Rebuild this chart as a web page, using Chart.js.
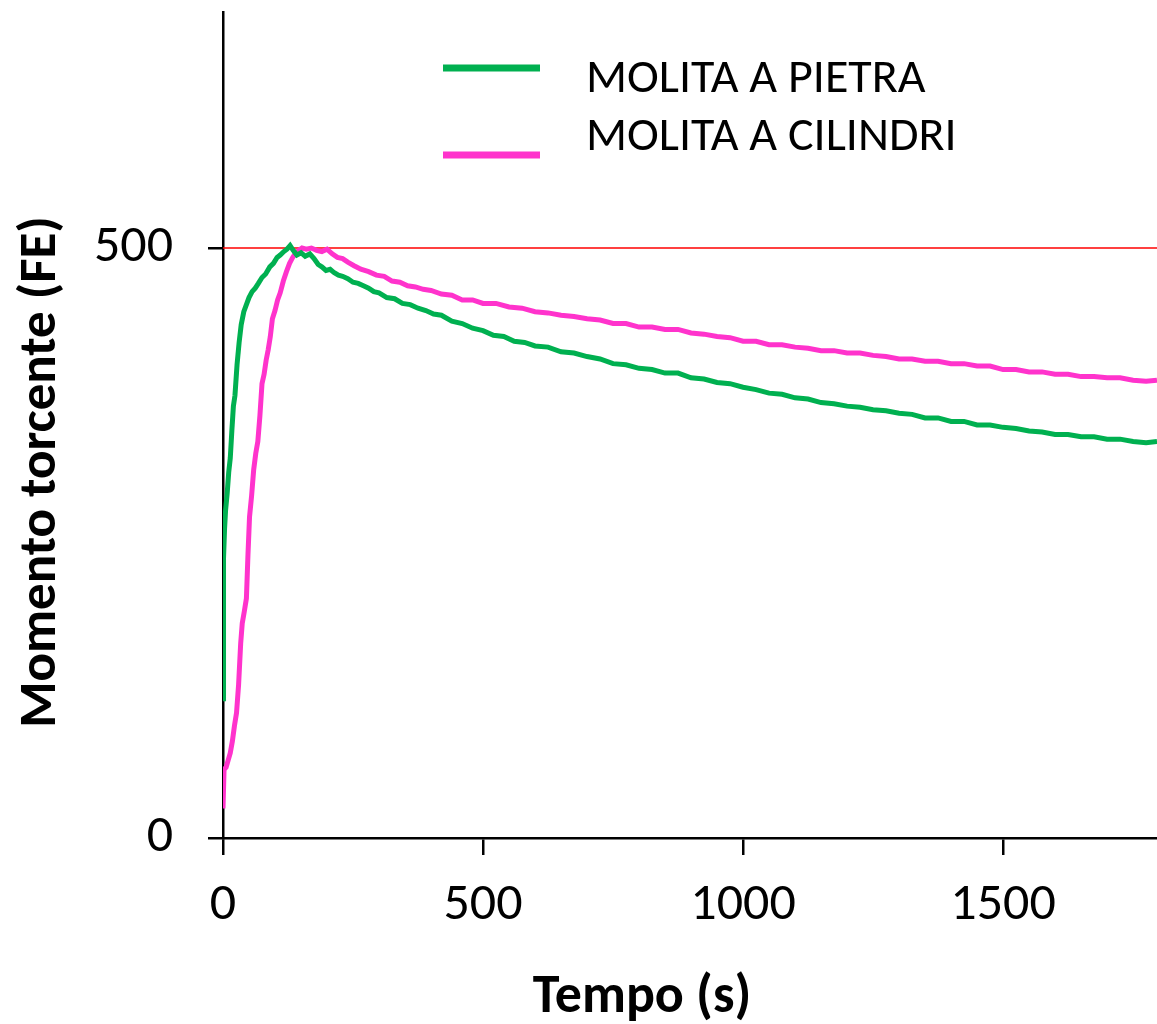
<!DOCTYPE html>
<html>
<head>
<meta charset="utf-8">
<script src="https://cdn.jsdelivr.net/npm/chart.js@4.4.0/dist/chart.umd.min.js"></script>
<style>
  html, body { margin: 0; padding: 0; background: #fff; }
  #wrap { width: 1157px; height: 1024px; }
</style>
</head>
<body>
<div id="wrap"><canvas id="my-chart" width="1157" height="1024"></canvas></div>
<script>
// time (s) and torque (FE)
const pietraTime = [0, 1, 3, 5, 8, 11, 14, 17, 20, 23, 27, 31, 35, 40, 45, 50, 56, 62, 68, 75, 82, 90, 97, 104, 110, 117, 123, 129, 135, 142, 150, 158, 167, 175, 183, 190, 198, 206, 214, 222, 230, 240, 250, 260, 270, 280, 290, 300, 315, 330, 345, 360, 375, 390, 405, 420, 440, 460, 480, 500, 520, 540, 560, 580, 600, 625, 650, 675, 700, 725, 750, 775, 800, 825, 850, 875, 900, 925, 950, 975, 1000, 1025, 1050, 1075, 1100, 1125, 1150, 1175, 1200, 1225, 1250, 1275, 1300, 1325, 1350, 1375, 1400, 1425, 1450, 1475, 1500, 1525, 1550, 1575, 1600, 1625, 1650, 1675, 1700, 1725, 1750, 1775, 1796];
const pietraVal = [118, 237, 262, 278, 292, 310, 322, 345, 366, 375, 401, 420, 435, 446, 452, 458, 463, 466, 470, 475, 478, 484, 487, 492, 494, 497, 499, 502, 498, 494, 496, 493, 495, 491, 486, 484, 481, 482, 479, 477, 476, 474, 471, 470, 468, 466, 463, 462, 458, 457, 453, 452, 449, 447, 444, 443, 438, 436, 432, 430, 426, 425, 421, 420, 417, 416, 412, 411, 408, 406, 402, 401, 398, 397, 394, 394, 390, 389, 386, 385, 382, 380, 377, 376, 373, 372, 369, 368, 366, 365, 363, 362, 360, 359, 356, 356, 353, 353, 350, 350, 348, 347, 345, 344, 342, 342, 340, 340, 338, 338, 336, 335, 336];

const cilindriTime = [0, 2, 6, 10, 14, 18, 22, 26, 30, 34, 37, 41, 45, 48, 51, 55, 59, 63, 67, 71, 75, 79, 83, 87, 91, 95, 100, 105, 110, 116, 122, 128, 134, 140, 146, 152, 160, 170, 180, 190, 200, 210, 220, 230, 240, 252, 265, 280, 295, 310, 325, 340, 355, 370, 385, 400, 420, 440, 460, 480, 500, 525, 550, 575, 600, 625, 650, 675, 700, 725, 750, 775, 800, 825, 850, 875, 900, 925, 950, 975, 1000, 1025, 1050, 1075, 1100, 1125, 1150, 1175, 1200, 1225, 1250, 1275, 1300, 1325, 1350, 1375, 1400, 1425, 1450, 1475, 1500, 1525, 1550, 1575, 1600, 1625, 1650, 1675, 1700, 1725, 1750, 1775, 1796];
const cilindriVal = [25, 58, 60, 66, 72, 82, 95, 106, 130, 165, 182, 192, 203, 240, 272, 290, 312, 326, 336, 358, 385, 393, 405, 414, 425, 440, 447, 456, 462, 472, 480, 487, 492, 496, 498, 500, 499, 500, 498, 497, 499, 495, 492, 491, 488, 485, 482, 480, 477, 476, 472, 471, 468, 467, 465, 464, 461, 460, 456, 456, 453, 453, 450, 449, 446, 445, 443, 442, 440, 439, 436, 436, 433, 433, 431, 431, 428, 427, 425, 424, 421, 421, 418, 418, 416, 415, 413, 413, 411, 411, 409, 408, 406, 406, 404, 404, 402, 402, 400, 400, 397, 397, 395, 395, 393, 393, 391, 391, 390, 390, 388, 387, 388];

const refLine = [500, 500];
const xTicks = [0, 500, 1000, 1500];
const yTicks = [0, 500];
const xMax = 1796;
const yMax = 700;

const seriesNames = ['MOLITA A PIETRA', 'MOLITA A CILINDRI'];
const seriesColors = ['#00B050', '#FF33CC'];
const xTitle = 'Tempo (s)';
const yTitle = 'Momento torcente (FE)';

const FONT = 'Carlito, Lato, sans-serif';

const toPoints = (xs, ys) => xs.map((x, i) => ({ x: x, y: ys[i] }));

// legend + axis titles drawn by hand, positions
const extras = {
  id: 'extras',
  afterDraw(chart) {
    const c = chart.ctx;
    c.save();
    c.fillStyle = '#000';
    c.textBaseline = 'alphabetic';
    c.font = '48px ' + FONT;
    c.textAlign = 'left';
    const rows = [[68, 92], [155, 150]];
    seriesNames.forEach((name, i) => {
      c.strokeStyle = seriesColors[i];
      c.lineWidth = 7;
      c.beginPath();
      c.moveTo(443, rows[i][0]);
      c.lineTo(540, rows[i][0]);
      c.stroke();
      c.fillText(name, 586, rows[i][1]);
    });

    c.font = 'bold 54px ' + FONT;
    c.textAlign = 'center';
    c.textBaseline = 'middle';
    c.fillText(xTitle, 642, 998);

    c.font = 'bold 53px ' + FONT;
    c.translate(42, 472);
    c.rotate(-Math.PI / 2);
    c.fillText(yTitle, 0, 0);
    c.restore();
  }
};

const ctx = document.getElementById('my-chart').getContext('2d');
const chart = new Chart(ctx, {
  type: 'line',
  data: {
    datasets: [
      {
        label: 'ref',
        data: toPoints([0, xMax], refLine),
        borderColor: '#FF0000',
        borderWidth: 1.5,
        pointRadius: 0,
        order: 10
      },
      {
        label: seriesNames[1],
        data: toPoints(cilindriTime, cilindriVal),
        borderColor: seriesColors[1],
        borderWidth: 5,
        pointRadius: 0,
        tension: 0,
        order: 2
      },
      {
        label: seriesNames[0],
        data: toPoints(pietraTime, pietraVal),
        borderColor: seriesColors[0],
        borderWidth: 5,
        pointRadius: 0,
        tension: 0,
        order: 1
      }
    ]
  },
  options: {
    responsive: false,
    animation: false,
    layout: { padding: { top: 12, left: 0, right: 0, bottom: 0 } },
    plugins: {
      legend: { display: false },
      tooltip: { enabled: false }
    },
    scales: {
      x: {
        type: 'linear',
        min: 0,
        max: xMax,
        afterBuildTicks: (axis) => { axis.ticks = xTicks.map(v => ({ value: v })); },
        afterFit: (s) => { s.height = 186; s.paddingLeft = 0; s.paddingRight = 0; },
        grid: { drawOnChartArea: false, drawTicks: true, tickLength: 17, color: '#000', lineWidth: 2.5 },
        border: { color: '#000', width: 2.5 },
        ticks: { color: '#000', font: { family: FONT, size: 52 }, padding: 20, maxRotation: 0, callback: (v) => String(v) }
      },
      y: {
        type: 'linear',
        min: 0,
        max: yMax,
        afterBuildTicks: (axis) => { axis.ticks = yTicks.map(v => ({ value: v })); },
        afterFit: (s) => { s.width = 223; s.paddingTop = 0; s.paddingBottom = 0; },
        grid: { drawOnChartArea: false, drawTicks: true, tickLength: 15, color: '#000', lineWidth: 2.5 },
        border: { color: '#000', width: 2.5 },
        ticks: { color: '#000', font: { family: FONT, size: 52 }, padding: 35, callback: (v) => String(v) }
      }
    }
  },
  plugins: [extras]
});
</script>
</body>
</html>
